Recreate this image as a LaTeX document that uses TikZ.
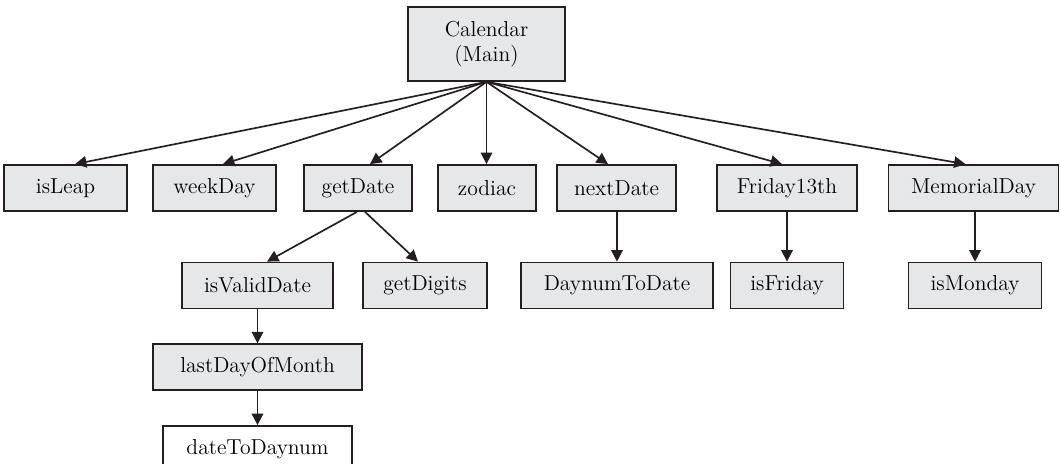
\documentclass[tikz,border=0pt]{standalone}
\usepackage{tikz}
\usetikzlibrary{arrows.meta,positioning}

\definecolor{boxfill}{HTML}{E6E7E8}
\definecolor{ink}{HTML}{231F20}

\begin{document}
\begin{tikzpicture}[
  font=\fontsize{12.3}{14.5}\selectfont,
  node distance=0.68cm and 0.6cm,
  box/.style={draw=ink, fill=boxfill, line width=1pt, align=center, inner sep=2pt, minimum height=0.92cm},
  leaf/.style={box, fill=white},
  line/.style={-{Triangle[length=6.5pt,width=6.5pt]}, line width=0.95pt, draw=ink}
]
\useasboundingbox (0,0) rectangle (21.22,-9.28);
\node[box, minimum width=3.14cm, minimum height=1.48cm] (cal) at (9.73,-0.88) {Calendar\\(Main)};
\node[box, minimum width=2.46cm] (isLeap) at (1.31,-3.76) {isLeap};
\node[box, minimum width=2.46cm] (weekDay) at (4.29,-3.76) {weekDay};
\node[box, minimum width=2.16cm] (getDate) at (7.16,-3.76) {getDate};
\node[box, minimum width=1.96cm] (zodiac) at (9.74,-3.76) {zodiac};
\node[box, minimum width=2.38cm] (nextDate) at (12.33,-3.76) {nextDate};
\node[box, minimum width=2.80cm] (fri13) at (15.74,-3.76) {Friday13th};
\node[box, minimum width=3.40cm] (memDay) at (19.47,-3.76) {MemorialDay};
\node[box, minimum width=3.02cm] (isValid) at (5.15,-5.71) {isValidDate};
\node[box, minimum width=2.48cm] (getDigits) at (8.50,-5.71) {getDigits};
\node[box, minimum width=3.84cm] (dayToDate) at (12.34,-5.71) {DaynumToDate};
\node[box, minimum width=2.26cm] (isFriday) at (15.74,-5.71) {isFriday};
\node[box, minimum width=2.66cm] (isMonday) at (19.50,-5.71) {isMonday};
\node[box, minimum width=4.18cm, below=of isValid] (lastDay) {lastDayOfMonth};
\node[leaf, minimum width=3.78cm, below=of lastDay] (dateToDay) {dateToDaynum};
% calls from main
\draw[line] (cal.south) -- ([xshift=0.19cm]isLeap.north);
\draw[line] (cal.south) -- ([xshift=0.17cm]weekDay.north);
\draw[line] (cal.south) -- ([xshift=0.24cm]getDate.north);
\draw[line] (cal.south) -- (cal.south |- zodiac.north);
\draw[line] (cal.south) -- ([xshift=-0.17cm]nextDate.north);
\draw[line] (cal.south) -- ([xshift=-0.10cm]fri13.north);
\draw[line] (cal.south) -- ([xshift=-0.16cm]memDay.north);
% second level
\draw[line] ([xshift=-0.02cm]getDate.south) -- ([xshift=0.19cm]isValid.north);
\draw[line] ([xshift=0.14cm]getDate.south) -- ([xshift=-0.14cm]getDigits.north);
\draw[line] (nextDate.south -| dayToDate) -- (dayToDate);
\draw[line] (fri13.south -| isFriday) -- (isFriday);
\draw[line] (memDay.south -| isMonday) -- (isMonday);
\draw[line] (isValid) -- (lastDay);
\draw[line] (lastDay) -- (dateToDay);
\end{tikzpicture}
\end{document}
